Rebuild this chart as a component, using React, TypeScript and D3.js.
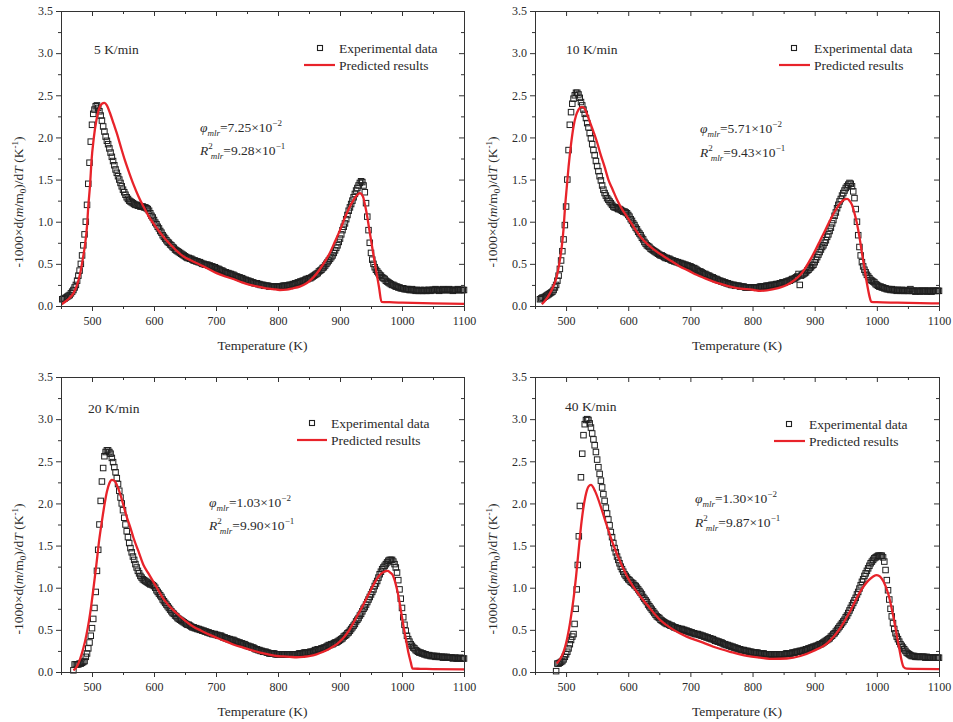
import React, { useEffect, useRef } from "react";
import * as d3 from "d3";

type Pt = [number, number];

const xMajorTicks = [500, 600, 700, 800, 900, 1000, 1100];
const xMinorTicks = [450, 550, 650, 750, 850, 950, 1050];
const yMajorTicks = [0, 0.5, 1.0, 1.5, 2.0, 2.5, 3.0, 3.5];
const yMinorTicks = [0.25, 0.75, 1.25, 1.75, 2.25, 2.75, 3.25];

const rateLabels = ["5 K/min", "10 K/min", "20 K/min", "40 K/min"];
const phiMantissa = ["7.25", "5.71", "1.03", "1.30"];
const phiExponent = ["\u22122", "\u22122", "\u22122", "\u22122"];
const r2Mantissa = ["9.28", "9.43", "9.90", "9.87"];
const r2Exponent = ["\u22121", "\u22121", "\u22121", "\u22121"];
const legendLabels = ["Experimental data", "Predicted results"];

// Experimental rows: [start temperature (K), temperature step (K), values...]
const exp5K: number[][] = [
  [452, 2, .08, .085, .09, .10, .11, .12, .13, .15, .17, .19],
  [472, 2, .22, .25, .30, .36, .42, .50, .60, .72, .85, 1.00],
  [492, 2, 1.20, 1.45, 1.70, 1.95, 2.15, 2.28, 2.33, 2.37, 2.38, 2.35],
  [512, 2, 2.31, 2.26, 2.20, 2.13, 2.07, 2.01, 1.96, 1.92, 1.87, 1.82],
  [532, 2, 1.77, 1.72, 1.67, 1.62, 1.58, 1.54, 1.50, 1.46, 1.42, 1.38],
  [552, 2, 1.35, 1.32, 1.29, 1.27, 1.25, 1.24, 1.23, 1.22, 1.21, 1.20],
  [572, 2, 1.20, 1.19, 1.19, 1.18, 1.18, 1.18, 1.17, 1.17, 1.16, 1.15],
  [592, 2, 1.13, 1.10, 1.07, 1.05, 1.02, .99, .97, .94, .92, .89],
  [612, 2, .87, .84, .82, .80, .78, .76, .75, .73, .72, .70],
  [632, 2, .69, .67, .66, .65, .64, .63, .62, .61, .60, .59],
  [652, 2, .58, .57, .57, .56, .56, .55, .54, .54, .53, .53],
  [672, 2, .52, .52, .51, .50, .50, .49, .49, .49, .48, .48],
  [692, 2, .47, .47, .46, .46, .45, .44, .44, .43, .42, .42],
  [712, 2, .41, .40, .40, .39, .39, .38, .38, .37, .37, .36],
  [732, 2, .35, .35, .34, .34, .33, .33, .32, .31, .31, .30],
  [752, 2, .30, .29, .29, .28, .28, .27, .27, .27, .26, .26],
  [772, 2, .25, .25, .25, .24, .24, .24, .24, .23, .23, .23],
  [792, 2, .23, .23, .23, .23, .23, .23, .23, .23, .24, .24],
  [812, 2, .24, .24, .24, .25, .25, .25, .26, .26, .27, .27],
  [832, 2, .28, .28, .29, .29, .30, .30, .31, .32, .32, .33],
  [852, 2, .33, .34, .35, .36, .37, .38, .39, .41, .42, .43],
  [872, 2, .45, .46, .48, .50, .52, .54, .56, .58, .60, .63],
  [892, 2, .66, .69, .72, .76, .80, .85, .90, .94, .98, 1.03],
  [912, 2, 1.08, 1.13, 1.17, 1.21, 1.25, 1.29, 1.33, 1.37, 1.40, 1.43],
  [932, 2, 1.46, 1.48, 1.47, 1.43, 1.35, 1.22, 1.06, .90, .75, .63],
  [952, 2, .55, .50, .46, .43, .41, .39, .37, .36, .34, .33],
  [972, 2, .32, .30, .29, .28, .27, .26, .25, .25, .24, .23],
  [992, 2, .23, .22, .22, .21, .21, .21, .20, .20, .20, .20],
  [1012, 2, .19, .19, .20, .19, .19, .18, .19, .18, .18, .19],
  [1032, 2, .18, .18, .19, .18, .18, .19, .19, .18, .19, .19],
  [1052, 2, .19, .20, .19, .19, .18, .19, .19, .20, .19, .19],
  [1072, 2, .19, .19, .20, .19, .19, .18, .19, .19, .19, .20],
  [1092, 2, .19, .19, .19, .19, .19],
];

const exp10K: number[][] = [
  [458, 2, .08, .09, .10, .10, .11, .12, .13, .14, .15, .16],
  [478, 2, .17, .19, .22, .25, .30, .36, .44, .54, .65, .79],
  [498, 2, .96, 1.18, 1.50, 1.85, 2.15, 2.30, 2.40, 2.46, 2.50, 2.53],
  [518, 2, 2.53, 2.51, 2.47, 2.42, 2.38, 2.33, 2.28, 2.23, 2.17, 2.12],
  [538, 2, 2.05, 1.99, 1.92, 1.85, 1.79, 1.72, 1.66, 1.60, 1.54, 1.49],
  [558, 2, 1.43, 1.38, 1.34, 1.31, 1.28, 1.26, 1.24, 1.22, 1.20, 1.18],
  [578, 2, 1.17, 1.17, 1.16, 1.15, 1.15, 1.14, 1.13, 1.12, 1.12, 1.11],
  [598, 2, 1.10, 1.08, 1.06, 1.03, 1.01, .98, .96, .93, .91, .88],
  [618, 2, .86, .84, .81, .79, .76, .74, .72, .71, .70, .68],
  [638, 2, .67, .66, .65, .64, .63, .62, .61, .60, .60, .59],
  [658, 2, .58, .57, .57, .56, .56, .55, .54, .54, .53, .53],
  [678, 2, .52, .52, .51, .51, .50, .50, .49, .49, .48, .48],
  [698, 2, .47, .47, .46, .45, .45, .44, .43, .42, .41, .41],
  [718, 2, .40, .39, .38, .38, .37, .36, .36, .35, .34, .34],
  [738, 2, .33, .32, .32, .31, .30, .30, .29, .29, .28, .28],
  [758, 2, .27, .27, .26, .26, .25, .25, .25, .24, .24, .24],
  [778, 2, .24, .23, .23, .23, .23, .22, .22, .22, .22, .22],
  [798, 2, .22, .22, .22, .22, .22, .22, .22, .23, .23, .23],
  [818, 2, .23, .23, .24, .24, .24, .24, .25, .25, .25, .25],
  [838, 2, .26, .26, .26, .27, .27, .28, .28, .28, .29, .29],
  [858, 2, .30, .30, .31, .32, .32, .33, .34, .35, .38, .25],
  [878, 2, .36, .37, .38, .39, .40, .42, .43, .45, .46, .48],
  [898, 2, .49, .52, .55, .58, .61, .64, .67, .70, .72, .75],
  [918, 2, .78, .82, .85, .89, .93, .98, 1.02, 1.07, 1.11, 1.16],
  [938, 2, 1.20, 1.24, 1.27, 1.31, 1.34, 1.37, 1.40, 1.42, 1.44, 1.46],
  [958, 2, 1.45, 1.42, 1.36, 1.28, 1.15, 1.00, .84, .70, .60, .52],
  [978, 2, .47, .43, .40, .37, .35, .33, .31, .30, .29, .28],
  [998, 2, .26, .25, .24, .23, .23, .22, .22, .21, .21, .20],
  [1018, 2, .20, .20, .19, .20, .19, .19, .19, .18, .19, .19],
  [1038, 2, .18, .19, .18, .18, .19, .18, .18, .18, .20, .18],
  [1058, 2, .18, .18, .17, .18, .18, .18, .17, .18, .18, .18],
  [1078, 2, .18, .17, .18, .18, .18, .17, .18, .18, .18, .18],
  [1098, 2, .18, .18],
];

const exp20K: number[][] = [
  [470, 2, .02, .09, .09, .09, .09, .10, .10, .11, .12, .13],
  [490, 2, .18, .22, .28, .35, .43, .52, .63, .76, .95, 1.20],
  [510, 2, 1.45, 1.75, 2.03, 2.26, 2.42, 2.56, 2.61, 2.63, 2.63, 2.61],
  [530, 2, 2.59, 2.54, 2.49, 2.43, 2.37, 2.30, 2.23, 2.15, 2.07, 2.00],
  [550, 2, 1.92, 1.83, 1.75, 1.67, 1.60, 1.53, 1.47, 1.42, 1.37, 1.33],
  [570, 2, 1.28, 1.24, 1.20, 1.17, 1.14, 1.12, 1.10, 1.09, 1.08, 1.07],
  [590, 2, 1.06, 1.05, 1.04, 1.04, 1.03, 1.02, 1.00, .97, .95, .93],
  [610, 2, .91, .89, .86, .84, .82, .80, .78, .76, .74, .72],
  [630, 2, .70, .69, .67, .66, .64, .63, .62, .61, .60, .59],
  [650, 2, .58, .57, .56, .56, .55, .54, .53, .53, .52, .52],
  [670, 2, .51, .51, .50, .50, .49, .49, .48, .48, .47, .47],
  [690, 2, .46, .46, .45, .45, .45, .44, .44, .43, .43, .43],
  [710, 2, .42, .41, .41, .40, .40, .39, .39, .38, .38, .38],
  [730, 2, .37, .36, .36, .35, .35, .34, .34, .33, .33, .32],
  [750, 2, .31, .31, .30, .30, .29, .29, .28, .27, .27, .26],
  [770, 2, .26, .25, .25, .24, .24, .24, .23, .23, .22, .22],
  [790, 2, .22, .22, .22, .21, .21, .21, .21, .21, .21, .21],
  [810, 2, .21, .21, .21, .21, .21, .21, .21, .21, .21, .21],
  [830, 2, .21, .21, .22, .22, .22, .22, .23, .23, .23, .23],
  [850, 2, .23, .24, .24, .24, .25, .26, .26, .27, .27, .27],
  [870, 2, .28, .28, .29, .29, .30, .31, .32, .32, .33, .33],
  [890, 2, .34, .35, .35, .36, .37, .38, .39, .40, .42, .43],
  [910, 2, .44, .46, .47, .49, .51, .53, .55, .57, .60, .62],
  [930, 2, .64, .67, .69, .72, .75, .77, .80, .83, .86, .89],
  [950, 2, .92, .95, .98, 1.02, 1.05, 1.08, 1.12, 1.16, 1.19, 1.22],
  [970, 2, 1.24, 1.26, 1.28, 1.30, 1.32, 1.33, 1.33, 1.33, 1.31, 1.28],
  [990, 2, 1.24, 1.18, 1.09, .98, .87, .76, .65, .56, .49, .43],
  [1010, 2, .39, .36, .33, .31, .29, .28, .26, .25, .24, .23],
  [1030, 2, .23, .22, .22, .21, .21, .20, .20, .20, .19, .19],
  [1050, 2, .19, .19, .18, .19, .18, .18, .18, .18, .17, .18],
  [1070, 2, .17, .18, .17, .17, .17, .17, .16, .17, .17, .16],
  [1090, 2, .16, .16, .17, .16, .16, .16],
];

const exp40K: number[][] = [
  [484, 2, .01, .10, .10, .11, .12, .13, .15, .18, .21, .24],
  [504, 2, .28, .33, .38, .42],
  [512, 1.7, .45, .57, .75, .98, 1.27, 1.61, 1.97, 2.31],
  [526, 2, 2.59, 2.81, 2.94, 2.99, 3.00, 2.99],
  [538, 2, 2.95, 2.90, 2.83, 2.76, 2.69, 2.61, 2.52, 2.43, 2.35, 2.27],
  [558, 2, 2.19, 2.11, 2.03, 1.95, 1.88, 1.81, 1.74, 1.66, 1.60, 1.53],
  [578, 2, 1.47, 1.42, 1.37],
  [584, 2, 1.33, 1.29, 1.25, 1.22, 1.19, 1.16, 1.14, 1.12, 1.10, 1.09],
  [604, 2, 1.07, 1.06, 1.05, 1.03, 1.02, 1.00, .98, .96, .94, .92],
  [624, 2, .89, .87, .85, .83, .80, .78, .76, .74, .72, .70],
  [644, 2, .68, .66, .65, .64, .62, .61, .60, .59, .58, .57],
  [664, 2, .57, .56, .55, .55, .54, .53, .53, .52, .52, .51],
  [684, 2, .51, .51, .50, .50, .49, .49, .48, .48, .47, .47],
  [704, 2, .46, .46, .45, .45, .45, .44, .44, .43, .43, .42],
  [724, 2, .42, .41, .41, .40, .40, .39, .39, .38, .37, .37],
  [744, 2, .36, .36, .35, .35, .34, .33, .33, .32, .32, .31],
  [764, 2, .31, .30, .30, .29, .29, .28, .28, .27, .27, .26],
  [784, 2, .26, .26, .25, .25, .25, .24, .24, .24, .23, .23],
  [804, 2, .23, .23, .23, .22, .22, .22, .22, .22, .21, .21],
  [824, 2, .21, .21, .21, .21, .21, .21, .21, .21, .21, .21],
  [844, 2, .21, .21, .21, .21, .21, .22, .22, .22, .22, .22],
  [864, 2, .23, .23, .23, .24, .24, .24, .25, .25, .25, .26],
  [884, 2, .26, .27, .27, .28, .28, .29, .29, .30, .30, .31],
  [904, 2, .31, .32, .33, .33, .34, .35, .36, .37, .38, .39],
  [924, 2, .40, .42, .43, .45, .46, .48, .50, .52, .54, .56],
  [944, 2, .58, .60, .62, .65, .67, .70, .73, .76, .79, .82],
  [964, 2, .85, .88, .92, .95, .99, 1.03, 1.07, 1.10, 1.14, 1.17],
  [984, 2, 1.20, 1.23, 1.26, 1.29, 1.31, 1.33, 1.35, 1.36, 1.37, 1.38],
  [1004, 2, 1.38, 1.38, 1.38, 1.36, 1.31, 1.21, 1.09, .97, .86, .75],
  [1024, 2, .66, .58, .51, .46, .42, .39, .36, .33, .31, .29],
  [1044, 2, .27, .25, .23, .22, .21, .20, .19, .19, .19, .18],
  [1064, 2, .18, .18, .18, .18, .18, .18, .18, .17, .18, .17],
  [1084, 2, .17, .17, .17, .17, .17, .17, .17, .17, .17],
];

const pred5K: Pt[] = [
  [451,0.02],[460,0.07],[470,0.15],[476,0.25],[481,0.39],[485,0.55],[489,0.74],[492,0.95],[494,1.18],[497,1.45],
  [499,1.7],[503,2.0],[507,2.2],[511,2.33],[516,2.4],[520,2.41],[524,2.38],[529,2.29],[535,2.16],[540,2.05],
  [546,1.9],[553,1.73],[560,1.58],[567,1.44],[575,1.3],[583,1.18],[591,1.07],[599,0.98],[610,0.87],[620,0.78],
  [633,0.68],[647,0.59],[660,0.54],[674,0.49],[688,0.44],[701,0.39],[715,0.35],[728,0.32],[742,0.28],[755,0.25],
  [768,0.23],[781,0.21],[792,0.2],[803,0.19],[814,0.195],[824,0.21],[835,0.23],[846,0.27],[857,0.34],[867,0.43],
  [875,0.52],[883,0.62],[891,0.75],[900,0.9],[908,1.05],[916,1.18],[922,1.26],[927,1.31],[932,1.34],[937,1.3],
  [940,1.21],[943,1.1],[947,0.92],[951,0.74],[955,0.56],[959,0.39],[963,0.22],[967,0.05],[980,0.045],[1000,0.04],
  [1050,0.03],[1100,0.025],
];

const pred10K: Pt[] = [
  [461,0.02],[468,0.08],[474,0.15],[480,0.24],[485,0.35],[489,0.5],[493,0.7],[496,0.92],[498,1.14],[501,1.4],
  [504,1.65],[508,1.92],[512,2.13],[516,2.26],[520,2.33],[524,2.36],[527,2.36],[530,2.34],[533,2.29],[538,2.19],
  [544,2.07],[550,1.94],[555,1.81],[562,1.65],[568,1.5],[575,1.38],[582,1.26],[590,1.15],[598,1.06],[606,0.97],
  [614,0.88],[622,0.8],[630,0.74],[643,0.66],[657,0.59],[670,0.53],[683,0.47],[697,0.42],[710,0.37],[723,0.33],
  [737,0.29],[750,0.26],[764,0.23],[777,0.21],[791,0.2],[802,0.19],[812,0.18],[823,0.185],[834,0.2],[845,0.22],
  [855,0.25],[866,0.3],[877,0.37],[885,0.45],[893,0.55],[901,0.66],[909,0.78],[917,0.9],[925,1.02],[933,1.13],
  [941,1.22],[947,1.26],[952,1.27],[956,1.25],[960,1.2],[964,1.1],[968,0.98],[972,0.82],[976,0.63],[980,0.45],
  [984,0.27],[988,0.12],[991,0.05],[1000,0.045],[1033,0.04],[1070,0.035],[1100,0.03],
];

const pred20K: Pt[] = [
  [470,0.02],[476,0.07],[481,0.16],[486,0.28],[491,0.44],[495,0.6],[499,0.8],[503,1.03],[507,1.27],[511,1.53],
  [516,1.79],[520,1.98],[524,2.14],[528,2.24],[532,2.28],[536,2.27],[540,2.22],[546,2.1],[551,1.97],[556,1.84],
  [562,1.71],[567,1.59],[575,1.43],[583,1.27],[591,1.17],[599,1.07],[607,0.97],[615,0.87],[625,0.78],[636,0.7],
  [650,0.61],[663,0.54],[676,0.49],[690,0.44],[703,0.4],[717,0.36],[730,0.32],[744,0.29],[757,0.26],[771,0.23],
  [784,0.21],[798,0.19],[809,0.185],[819,0.18],[830,0.175],[841,0.18],[852,0.19],[862,0.21],[873,0.24],[884,0.28],
  [895,0.33],[905,0.4],[916,0.51],[926,0.64],[937,0.79],[948,0.95],[956,1.06],[964,1.15],[971,1.19],[977,1.2],
  [981,1.18],[985,1.15],[990,1.04],[994,0.91],[998,0.74],[1002,0.56],[1006,0.4],[1010,0.24],[1014,0.12],
  [1017,0.04],[1030,0.038],[1050,0.035],[1100,0.03],
];

const pred40K: Pt[] = [
  [485,0.1],[491,0.16],[496,0.24],[500,0.34],[504,0.48],[508,0.66],[512,0.87],[516,1.13],[520,1.43],[525,1.79],
  [531,2.08],[536,2.2],[540,2.22],[547,2.14],[555,1.98],[565,1.75],[576,1.51],[587,1.31],[600,1.11],[614,0.95],
  [630,0.8],[651,0.62],[673,0.5],[694,0.42],[716,0.36],[737,0.3],[764,0.24],[791,0.19],[812,0.17],[834,0.155],
  [855,0.16],[877,0.19],[898,0.25],[920,0.34],[941,0.52],[957,0.72],[973,0.95],[987,1.09],[1000,1.15],[1011,1.07],
  [1019,0.91],[1027,0.64],[1035,0.32],[1043,0.06],[1048,0.04],[1100,0.035],
];

const expandRows = (rows: number[][]): Pt[] =>
  rows.flatMap((r) => r.slice(2).map((v, k) => [r[0] + k * r[1], v] as Pt));

const expSeries = [exp5K, exp10K, exp20K, exp40K].map(expandRows);
const predSeries = [pred5K, pred10K, pred20K, pred40K];

const panels = [
  { x0: 61, y0: 11, x1: 464, y1: 306, rate: [94, 54], sq: [320, 48], legTx: 339, legY1: 53, line: [304, 335, 65], legY2: 70, ann: [200, 132, 155], yTitleX: 23, yTitleY: 202 },
  { x0: 535, y0: 11, x1: 939, y1: 306, rate: [566, 54], sq: [794, 48], legTx: 814, legY1: 53, line: [779, 810, 65], legY2: 70, ann: [700, 133, 157], yTitleX: 497, yTitleY: 202 },
  { x0: 61, y0: 377, x1: 464, y1: 672, rate: [88, 413], sq: [312, 423], legTx: 331, legY1: 428, line: [297, 327, 440], legY2: 445, ann: [209, 507, 530], yTitleX: 23, yTitleY: 569 },
  { x0: 535, y0: 377, x1: 939, y1: 672, rate: [565, 411], sq: [789, 424], legTx: 809, legY1: 429, line: [774, 805, 441], legY2: 446, ann: [695, 503, 527], yTitleX: 497, yTitleY: 569 },
];

const FONT = "'Liberation Serif', 'Times New Roman', serif";
const TXT = "#2a2a2a";
const RED = "#e8232a";

export default function App() {
  const ref = useRef<SVGSVGElement | null>(null);

  useEffect(() => {
    const svg = d3.select(ref.current);
    svg.selectAll("*").remove();

    panels.forEach((p, i) => {
      const x = d3.scaleLinear().domain([450, 1100]).range([p.x0, p.x1]);
      const y = d3.scaleLinear().domain([0, 3.5]).range([p.y1, p.y0]);
      const g = svg.append("g");

      const s = 5.5;
      g.append("g")
        .selectAll("rect")
        .data(expSeries[i])
        .join("rect")
        .attr("x", (d) => x(d[0]) - s / 2)
        .attr("y", (d) => y(d[1]) - s / 2)
        .attr("width", s)
        .attr("height", s)
        .attr("fill", "none")
        .attr("stroke", "#202020")
        .attr("stroke-width", 1);

      const line = d3
        .line<Pt>()
        .x((d) => x(d[0]))
        .y((d) => y(d[1]))
        .curve(d3.curveMonotoneX);
      g.append("path")
        .datum(predSeries[i])
        .attr("d", line)
        .attr("fill", "none")
        .attr("stroke", RED)
        .attr("stroke-width", 2.3)
        .attr("stroke-linejoin", "round");

      const styleAxis = (ag: any) => {
        ag.selectAll("path.domain").attr("stroke", "#333").attr("stroke-width", 1);
        ag.selectAll(".tick line").attr("stroke", "#333").attr("stroke-width", 1);
        ag.selectAll("text").attr("font-family", FONT).attr("font-size", 12).attr("fill", TXT);
      };

      styleAxis(g.append("g").attr("transform", `translate(0,${p.y1})`)
        .call(d3.axisBottom(x).tickValues(xMajorTicks).tickSizeInner(5).tickSizeOuter(0).tickPadding(5).tickFormat(d3.format("d"))));
      styleAxis(g.append("g").attr("transform", `translate(0,${p.y1})`)
        .call(d3.axisBottom(x).tickValues(xMinorTicks).tickSizeInner(3).tickSizeOuter(0).tickFormat(() => "")));
      styleAxis(g.append("g").attr("transform", `translate(0,${p.y0})`)
        .call(d3.axisTop(x).tickValues(xMajorTicks).tickSizeInner(-5).tickSizeOuter(0).tickFormat(() => "")));
      styleAxis(g.append("g").attr("transform", `translate(0,${p.y0})`)
        .call(d3.axisTop(x).tickValues(xMinorTicks).tickSizeInner(-3).tickSizeOuter(0).tickFormat(() => "")));
      styleAxis(g.append("g").attr("transform", `translate(${p.x0},0)`)
        .call(d3.axisLeft(y).tickValues(yMajorTicks).tickSizeInner(5).tickSizeOuter(0).tickPadding(3).tickFormat(d3.format(".1f"))));
      styleAxis(g.append("g").attr("transform", `translate(${p.x0},0)`)
        .call(d3.axisLeft(y).tickValues(yMinorTicks).tickSizeInner(3).tickSizeOuter(0).tickFormat(() => "")));
      styleAxis(g.append("g").attr("transform", `translate(${p.x1},0)`)
        .call(d3.axisRight(y).tickValues(yMajorTicks).tickSizeInner(-5).tickSizeOuter(0).tickFormat(() => "")));
      styleAxis(g.append("g").attr("transform", `translate(${p.x1},0)`)
        .call(d3.axisRight(y).tickValues(yMinorTicks).tickSizeInner(-3).tickSizeOuter(0).tickFormat(() => "")));

      const txt = (xx: number, yy: number) =>
        g.append("text").attr("x", xx).attr("y", yy).attr("font-family", FONT).attr("font-size", 13.5).attr("fill", TXT);

      txt((p.x0 + p.x1) / 2, p.y1 + 44).attr("text-anchor", "middle").text("Temperature (K)");

      const yt = g.append("text")
        .attr("transform", `translate(${p.yTitleX},${p.yTitleY}) rotate(-90)`)
        .attr("text-anchor", "middle")
        .attr("font-family", FONT).attr("font-size", 13.5).attr("fill", TXT);
      yt.append("tspan").text("-1000\u00D7d(");
      yt.append("tspan").attr("font-style", "italic").text("m");
      yt.append("tspan").text("/m");
      yt.append("tspan").attr("font-size", 9).attr("dy", 3).text("0");
      yt.append("tspan").attr("dy", -3).text(")/d");
      yt.append("tspan").attr("font-style", "italic").text("T");
      yt.append("tspan").text(" (K");
      yt.append("tspan").attr("font-size", 9).attr("dy", -5).text("-1");
      yt.append("tspan").attr("dy", 5).text(")");

      txt(p.rate[0], p.rate[1]).text(rateLabels[i]);

      g.append("rect")
        .attr("x", p.sq[0] - 2.5).attr("y", p.sq[1] - 2.5).attr("width", 5).attr("height", 5)
        .attr("fill", "none").attr("stroke", "#202020").attr("stroke-width", 1.1);
      txt(p.legTx, p.legY1).text(legendLabels[0]);
      g.append("line")
        .attr("x1", p.line[0]).attr("x2", p.line[1]).attr("y1", p.line[2]).attr("y2", p.line[2])
        .attr("stroke", RED).attr("stroke-width", 2.2);
      txt(p.legTx, p.legY2).text(legendLabels[1]);

      const a1 = txt(p.ann[0], p.ann[1]);
      a1.append("tspan").attr("font-style", "italic").text("\u03C6");
      a1.append("tspan").attr("font-style", "italic").attr("font-size", 9).attr("dy", 4).text("mlr");
      a1.append("tspan").attr("dy", -4).text(`=${phiMantissa[i]}\u00D710`);
      a1.append("tspan").attr("font-size", 9).attr("dy", -6).text(phiExponent[i]);

      const a2 = txt(p.ann[0], p.ann[2]);
      a2.append("tspan").attr("font-style", "italic").text("R");
      a2.append("tspan").attr("font-size", 9).attr("dy", -6).text("2");
      a2.append("tspan").attr("font-style", "italic").attr("font-size", 9).attr("dy", 10).attr("dx", -2).text("mlr");
      a2.append("tspan").attr("dy", -4).text(`=${r2Mantissa[i]}\u00D710`);
      a2.append("tspan").attr("font-size", 9).attr("dy", -6).text(r2Exponent[i]);
    });
  }, []);

  return (
    <svg ref={ref} width={953} height={722} style={{ display: "block", position: "absolute", left: 0, top: 0, background: "#fff" }} />
  );
}
